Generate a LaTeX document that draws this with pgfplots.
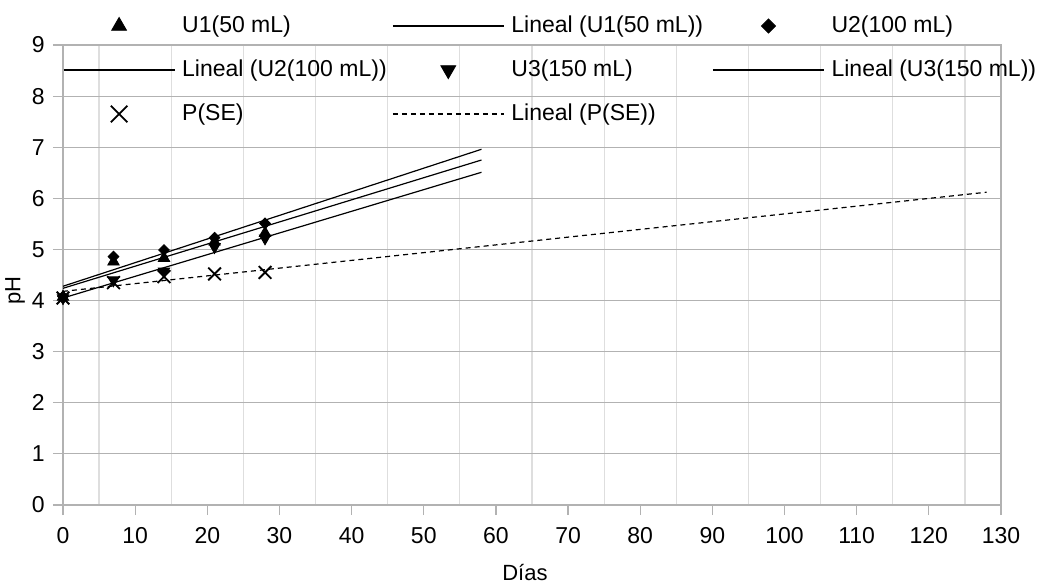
\documentclass[border=0pt]{standalone}
\usepackage{fontspec}
\setmainfont{Liberation Sans}
\usepackage{pgfplots}
\pgfplotsset{compat=1.18}

\pgfplotstableread{
dia   u1    u2    u3    pse
0     4.07  4.08  4.05  4.05
7     4.76  4.86  4.40  4.35
14    4.83  4.99  4.57  4.47
21    5.15  5.23  5.05  4.52
28    5.32  5.51  5.22  4.55
}\datos

\pgfplotsset{
  lgimg/.style={legend image code/.code={%
    \draw[mark repeat=2,mark phase=2,##1] plot coordinates {(0bp,0bp) (27.75bp,0bp) (55.5bp,0bp)};}},
  mkimg/.style={legend image code/.code={%
    \draw[mark repeat=2,mark phase=2,##1,every mark/.append style={scale=1.3}] plot coordinates {(0bp,0bp) (27.75bp,0bp) (55.5bp,0bp)};}},
}
\newcommand{\ca}[1]{\makebox[101.5bp][l]{#1}}
\newcommand{\cb}[1]{\makebox[97bp][l]{#1}}

\begin{document}
\begin{tikzpicture}
\begin{axis}[
  at={(0,0)}, anchor=south west,
  scale only axis, width=469bp, height=230bp,
  xmin=0, xmax=130, ymin=0, ymax=9,
  xtick={0,10,...,130}, minor xtick={5,15,...,125},
  ytick={0,1,...,9},
  ymajorgrids=true, xminorgrids=true,
  major grid style={color=black!30, line width=0.6bp},
  minor grid style={color=black!13, line width=0.6bp},
  axis line style={color=black!30, line width=0.6bp},
  tick style={color=black!30, line width=0.6bp},
  tick align=outside, tick pos=left,
  major tick length=5bp, minor tick length=0bp,
  /pgf/number format/assume math mode=true,
  tick label style={font=\fontsize{11.5bp}{13bp}\selectfont, text=black},
  xticklabel style={inner sep=0pt, yshift=-6bp},
  yticklabel style={inner sep=0pt, xshift=-4bp},
  xlabel={Días}, ylabel={pH},
  label style={font=\fontsize{11bp}{13bp}\selectfont},
  xlabel style={at={(axis description cs:0.4925,-0.1457)}, anchor=center},
  ylabel style={at={(axis description cs:-0.0512,0.467)}, anchor=center},
  clip=false,
  legend columns=3,
  legend cell align=left,
  legend style={at={(axis description cs:0,1.0652)}, anchor=north west,
    draw=none, fill=none, inner sep=0pt, outer sep=0pt,
    column sep=3.5bp, row sep=11bp,
    font=\fontsize{11.5bp}{13bp}\selectfont,
    nodes={inner sep=0pt, text height=8.5bp, text depth=2.5bp}},
]
\addplot[only marks, mark=triangle*, mark size=3.3bp, black, mkimg] table[x=dia,y=u1] {\datos};
\addlegendentry{\ca{U1(50 mL)}}
\addplot[black, line width=0.6bp, lgimg] coordinates {(0,4.24) (58,6.75)};
\addlegendentry{\cb{Lineal (U1(50 mL))}}
\addplot[only marks, mark=square*, mark size=1.9bp, mark options={rotate=45}, black, mkimg] table[x=dia,y=u2] {\datos};
\addlegendentry{U2(100 mL)}
\addplot[black, line width=0.6bp, lgimg] coordinates {(0,4.28) (58,6.96)};
\addlegendentry{\ca{Lineal (U2(100 mL))}}
\addplot[only marks, mark=triangle*, mark size=3.3bp, mark options={rotate=180}, black, mkimg] table[x=dia,y=u3] {\datos};
\addlegendentry{\cb{U3(150 mL)}}
\addplot[black, line width=0.6bp, lgimg] coordinates {(0,4.05) (58,6.51)};
\addlegendentry{Lineal (U3(150 mL))}
\addplot[only marks, mark=x, mark size=4.5bp, mark options={line width=0.9bp}, black, mkimg] table[x=dia,y=pse] {\datos};
\addlegendentry{\ca{P(SE)}}
\addplot[black, line width=0.6bp, dash pattern=on 2.5bp off 2bp, lgimg] coordinates {(0,4.18) (128,6.12)};
\addlegendentry{\cb{Lineal (P(SE))}}
\end{axis}
\pgfresetboundingbox
\path (-31.5bp,-39.5bp) rectangle (487.5bp,252.5bp);
\end{tikzpicture}
\end{document}
